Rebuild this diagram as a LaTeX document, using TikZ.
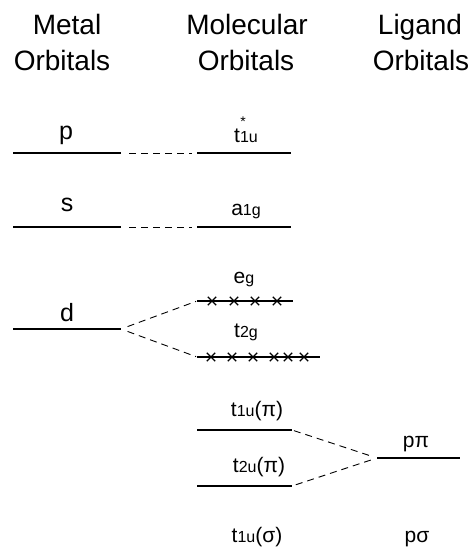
\documentclass[tikz,border=0pt]{standalone}
\usepackage{fontspec}
\setmainfont{Liberation Sans}
\usetikzlibrary{shapes.misc}

\newcommand{\lo}[1]{{\fontsize{16}{16}\selectfont #1}}

\begin{document}
\begin{tikzpicture}[x=1pt, y=-1pt,
        hd/.style={font=\fontsize{28}{30}\selectfont, anchor=base},
        lab/.style={font=\fontsize{25}{27}\selectfont, anchor=base},
        mo/.style={font=\fontsize{21}{23}\selectfont, anchor=base},
        lvl/.style={line width=1.8pt},
        con/.style={dash pattern=on 7pt off 5pt, line width=0.9pt},
        el/.style={cross out, draw, line width=1.3pt, minimum size=7pt, inner sep=0pt}]
      \useasboundingbox (0,0) rectangle (476,558);
      % headings
      \node[hd] (mhA) at (67,34) {Metal};
      \node[hd] (mhB) at (62,70) {Orbitals};
      \node[hd] (ohA) at (247,34) {Molecular};
      \node[hd] (ohB) at (246,70) {Orbitals};
      \node[hd] (lhA) at (420,34) {Ligand};
      \node[hd] (lhB) at (421,70) {Orbitals};
      % metal levels
      \draw[lvl] (13,153) coordinate (pL) -- (121,153) coordinate (pR);
      \draw[lvl] (13,227) coordinate (sL) -- (121,227) coordinate (sR);
      \draw[lvl] (13,329) coordinate (dL) -- (121,329) coordinate (dR);
      \node[lab] (plab) at (66,139) {p};
      \node[lab] (slab) at (67,211) {s};
      \node[lab] (dlab) at (67,321) {d};
      % molecular levels
      \draw[lvl] (197,153) coordinate (tuL) -- (291,153) coordinate (tuR);
      \draw[lvl] (197,227) coordinate (agL) -- (291,227) coordinate (agR);
      \draw[lvl] (197,301) coordinate (egL) -- (293,301) coordinate (egR);
      \draw[lvl] (197,357) coordinate (tgL) -- (320,357) coordinate (tgR);
      \draw[lvl] (197,430) coordinate (tpL) -- (292,430) coordinate (tpR);
      \draw[lvl] (197,486) coordinate (upL) -- (292,486) coordinate (upR);
      \node[mo] (tulab) at (246,142) {t\lo{1u}};
      \node[mo, font=\fontsize{14}{14}\selectfont] (tustar) at (243,126) {*};
      \node[mo] (aglab) at (246,215) {a\lo{1g}};
      \node[mo] (eglab) at (244,283) {e\lo{g}};
      \node[mo] (tglab) at (246,337) {t\lo{2g}};
      \node[mo] (tplab) at (257,416) {t\lo{1u}(π)};
      \node[mo] (uplab) at (259,472) {t\lo{2u}(π)};
      \node[mo] (tslab) at (257,542) {t\lo{1u}(σ)};
      % electrons
      \foreach \x in {212,234,255,277}
        \node[el] (eg\x) at (\x,301) {};
      \foreach \x in {211,232,253,274,288,304}
        \node[el] (tg\x) at (\x,357) {};
      % ligand levels
      \draw[lvl] (377,458) coordinate (ppL) -- (460,458) coordinate (ppR);
      \node[mo] (pplab) at (416,447) {pπ};
      \node[mo] (pslab) at (417,542) {pσ};
      % connectors
      \draw[con, shorten <=8pt, shorten >=5pt] (pR) -- (tuL);
      \draw[con, shorten <=8pt, shorten >=5pt] (sR) -- (agL);
      \draw[con, shorten <=7pt, shorten >=1pt] (dR) -- (egL);
      \draw[con, shorten <=7pt, shorten >=1pt] (dR) -- (tgL);
      \draw[con, shorten <=2pt, shorten >=4pt] (tpR) -- (ppL);
      \draw[con, shorten <=4pt, shorten >=4pt] (upR) -- (ppL);
    \end{tikzpicture}
\end{document}
